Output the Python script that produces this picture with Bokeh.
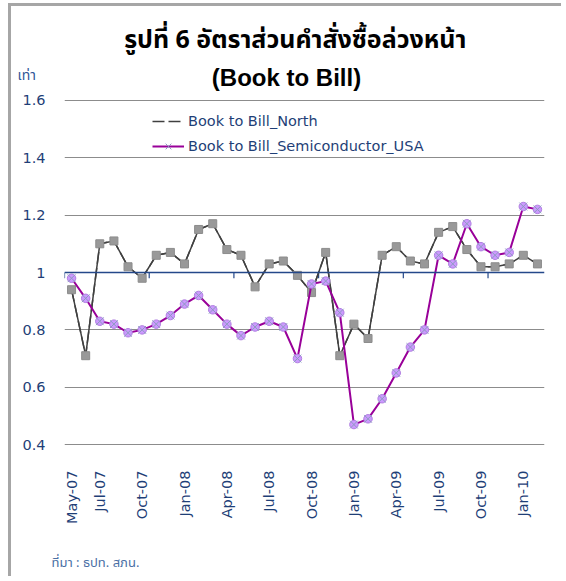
import numpy as np
from bokeh.plotting import figure
from bokeh.models import (ColumnDataSource, FixedTicker, CustomJSTickFormatter, Span, Label,
                          Legend, LegendItem)
from bokeh.embed import file_html
from bokeh.resources import INLINE

months = ["May-07", "Jun-07", "Jul-07", "Aug-07", "Sep-07", "Oct-07", "Nov-07", "Dec-07",
          "Jan-08", "Feb-08", "Mar-08", "Apr-08", "May-08", "Jun-08", "Jul-08", "Aug-08",
          "Sep-08", "Oct-08", "Nov-08", "Dec-08", "Jan-09", "Feb-09", "Mar-09", "Apr-09",
          "May-09", "Jun-09", "Jul-09", "Aug-09", "Sep-09", "Oct-09", "Nov-09", "Dec-09",
          "Jan-10", "Feb-10"]
north = [0.94, 0.71, 1.10, 1.11, 1.02, 0.98, 1.06, 1.07, 1.03, 1.15, 1.17, 1.08,
         1.06, 0.95, 1.03, 1.04, 0.99, 0.93, 1.07, 0.71, 0.82, 0.77, 1.06, 1.09,
         1.04, 1.03, 1.14, 1.16, 1.08, 1.02, 1.02, 1.03, 1.06, 1.03]
semi = [0.98, 0.91, 0.83, 0.82, 0.79, 0.80, 0.82, 0.85, 0.89, 0.92, 0.87, 0.82,
        0.78, 0.81, 0.83, 0.81, 0.70, 0.96, 0.97, 0.86, 0.47, 0.49, 0.56, 0.65,
        0.74, 0.80, 1.06, 1.03, 1.17, 1.09, 1.06, 1.07, 1.23, 1.22]
tick_labels = ["May-07", "Jul-07", "Oct-07", "Jan-08", "Apr-08", "Jul-08", "Oct-08",
               "Jan-09", "Apr-09", "Jul-09", "Oct-09", "Jan-10"]
y_ticks = [0.4, 0.6, 0.8, 1.0, 1.2, 1.4, 1.6]
name_north = "Book to Bill_North"
name_semi = "Book to Bill_Semiconductor_USA"
title_text = "รูปที่  6 อัตราส่วนคำสั่งซื้อล่วงหน้า"
subtitle_text = "(Book to Bill)"
unit_text = "เท่า"
source_text = "ที่มา : ธปท. สภน."

NAVY = "#1F3F77"
LATIN = "DejaVu Sans"
THAI = "Tahoma, Noto Sans Thai, Noto Sans, DejaVu Sans, sans-serif"

x = list(range(len(months)))
src = ColumnDataSource(dict(x=x, north=north, semi=semi, month=months))

W, H = 553, 573
pad = 0.003
p = figure(width=W, height=H, output_backend="svg", toolbar_location=None,
           x_range=(-0.5, len(months) - 0.5),
           y_range=(y_ticks[0] - pad, y_ticks[-1] + pad),
           min_border_left=53, min_border_right=W - 533, min_border_top=93,
           min_border_bottom=H - 439)
p.outline_line_color = None
p.background_fill_color = "white"
p.border_fill_color = "white"
p.styles = {"margin-left": "8px", "margin-top": "3px",
            "border-top": "3px solid #A6A6A6", "border-left": "3px solid #A6A6A6"}

# y axis
p.yaxis.ticker = FixedTicker(ticks=y_ticks)
p.yaxis.formatter = CustomJSTickFormatter(code="return tick.toFixed(1).replace(/\\.0$/, '')")
p.yaxis.axis_line_color = None
p.yaxis.major_tick_line_color = None
p.yaxis.minor_tick_line_color = None
p.yaxis.major_tick_out = 0
p.yaxis.major_label_standoff = 19
p.yaxis.major_label_text_font = LATIN
p.yaxis.major_label_text_font_size = "14.5px"
p.yaxis.major_label_text_color = NAVY

# x axis
tick_pos = [months.index(t) for t in tick_labels]
p.xaxis.ticker = FixedTicker(ticks=tick_pos)
p.xaxis.major_label_overrides = {i: t for i, t in zip(tick_pos, tick_labels)}
p.xaxis.major_label_orientation = np.pi / 2
p.xaxis.axis_line_color = None
p.xaxis.major_tick_line_color = None
p.xaxis.minor_tick_line_color = None
p.xaxis.major_label_standoff = 19
p.xaxis.major_label_text_font = LATIN
p.xaxis.major_label_text_font_size = "14.5px"
p.xaxis.major_label_text_color = NAVY

# grid
p.xgrid.visible = False
p.ygrid.ticker = FixedTicker(ticks=[t for t in y_ticks if t != 1.0])
p.ygrid.grid_line_color = "#8C8C8C"
p.ygrid.grid_line_width = 1

# horizontal axis line crossing at 1
p.add_layout(Span(location=1.0, dimension="width", line_color="#24488A", line_width=1.5))
bounds = np.arange(-0.5, len(months), 6)
p.segment(x0=bounds, y0=[1.0] * len(bounds), x1=bounds, y1=[0.98] * len(bounds),
          line_color="#24488A", line_width=1.2)

# series (dashed copy underneath only shows in legend)
dash_r = p.line("x", "north", source=src, line_color="#404040", line_width=1.5,
                line_dash="12 4")
p.line("x", "north", source=src, line_color="#404040", line_width=1.5)
p.scatter("x", "north", source=src, marker="square", size=8,
          fill_color="#999999", line_color="#8C8C8C")
semi_line = p.line("x", "semi", source=src, line_color="#990099", line_width=2)
p.scatter("x", "semi", source=src, marker="circle", size=8.5,
          fill_color="#CC99FF", line_color="#B080E0")
semi_x = p.scatter("x", "semi", source=src, marker="x", size=11,
                   line_color="#8C9CC0", line_width=1)

legend = Legend(items=[LegendItem(label=name_north, renderers=[dash_r]),
                       LegendItem(label=name_semi, renderers=[semi_line, semi_x])],
                location=(88, 289), glyph_width=32, glyph_height=20, label_standoff=4,
                spacing=5, padding=0, margin=0, border_line_alpha=0,
                background_fill_alpha=0, label_text_font=LATIN,
                label_text_font_size="14.5px", label_text_color=NAVY)
p.add_layout(legend)

# texts placed in side panels (canvas coordinates)
p.add_layout(Label(x=284, y=30, x_units="canvas", y_units="canvas", text=title_text,
                   text_align="center", text_baseline="middle", text_font=THAI,
                   text_font_size="25px", text_font_style="bold", text_color="black"), "above")
p.add_layout(Label(x=272, y=68, x_units="canvas", y_units="canvas", text=subtitle_text,
                   text_align="center", text_baseline="middle", text_font="Liberation Sans",
                   text_font_size="24px", text_font_style="bold", text_color="black"), "above")
p.add_layout(Label(x=3, y=66, x_units="canvas", y_units="canvas", text=unit_text,
                   text_align="left", text_baseline="middle", text_font=THAI,
                   text_font_size="14px", text_color="#2F5597"), "above")
p.add_layout(Label(x=37, y=553, x_units="canvas", y_units="canvas", text=source_text,
                   text_align="left", text_baseline="middle", text_font=THAI,
                   text_font_size="13px", text_color="#4A6FA5"), "below")

open("out.html", "w").write(file_html(p, INLINE))
